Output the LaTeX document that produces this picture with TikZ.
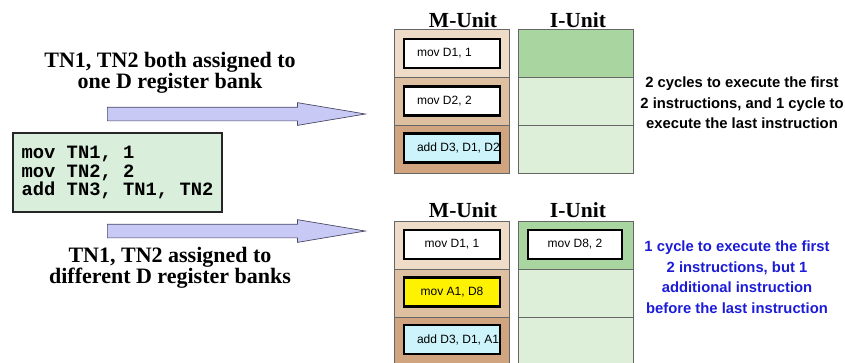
\documentclass[tikz,border=0pt]{standalone}
\usepackage{fontspec}
\setmainfont{Liberation Serif}
\setsansfont{Liberation Sans}
\setmonofont{Liberation Mono}
\usetikzlibrary{shapes.arrows,positioning}
\definecolor{tanlight}{HTML}{EEDCC9}
\definecolor{tanmid}{HTML}{DEBF9F}
\definecolor{tandark}{HTML}{D0A47E}
\definecolor{greenmid}{HTML}{A9D6A0}
\definecolor{greenpale}{HTML}{DDEFD8}
\definecolor{codegreen}{HTML}{D9EEDB}
\definecolor{cyanpale}{HTML}{CCF4FA}
\definecolor{arrowfill}{HTML}{C9C9F6}
\definecolor{arrowline}{HTML}{4A4A66}
\definecolor{notesblue}{HTML}{1C1CD8}

\begin{document}
\begin{tikzpicture}[x=1pt, y=-1pt,
    cell/.style={draw=gray!80!black, line width=0.6pt, minimum width=115pt,
                 minimum height=48pt, inner sep=0pt},
    slot/.style={draw=black, line width=2.4pt, fill=white, minimum width=96pt,
                 minimum height=29pt, inner sep=0pt, font=\sffamily\fontsize{12}{12}\selectfont},
    head/.style={font=\bfseries\fontsize{21.5}{21}\selectfont},
    caption/.style={align=center, font=\bfseries\fontsize{22}{20.5}\selectfont},
    note/.style={align=center, font=\sffamily\bfseries\fontsize{14.8}{20.5}\selectfont},
    blockarrow/.style={single arrow, draw=arrowline, fill=arrowfill, line width=0.7pt,
                 inner xsep=0pt, inner ysep=6.5pt, minimum width=22pt, minimum height=258pt,
                 single arrow head extend=4.5pt, single arrow tip angle=19, anchor=tail}
  ]
    \clip (0,0) rectangle (845,362);

    % code and captions
    \node[draw=black!85, line width=2.6pt, fill=codegreen, minimum width=209pt,
          minimum height=79pt, align=left, font=\ttfamily\bfseries\fontsize{18.8}{18.5}\selectfont]
          (code) at (117.5,172.5) {mov TN1, 1\\mov TN2, 2\\add TN3, TN1, TN2};
    \node[caption] (captop) at (170,73)  {TN1, TN2 both assigned to\\one D register bank};
    \node[caption] (capbot) at (170,268) {TN1, TN2 assigned to\\different D register banks};
    \node[blockarrow] (arrtop) at (107,114) {};
    \node[blockarrow] (arrbot) at (107,231) {};

    % first schedule
    \node[head] (mheadA) at (463,20) {M-Unit};
    \node[head] (iheadA) at (578,20) {I-Unit};
    \node[cell, fill=tanlight]  (mA1) at (451.5,53)  {};
    \node[cell, fill=tanmid]    (mA2) at (451.5,101) {};
    \node[cell, fill=tandark]   (mA3) at (451.5,149) {};
    \node[cell, fill=greenmid]  (iA1) at (575.5,53)  {};
    \node[cell, fill=greenpale] (iA2) at (575.5,101) {};
    \node[cell, fill=greenpale] (iA3) at (575.5,149) {};
    \node[slot] (sA1) at (452,53.5) {\makebox[70pt][l]{mov D1, 1}};
    \node[slot] (sA2) at (452,101)  {\makebox[70pt][l]{mov D2, 2}};
    \node[slot, fill=cyanpale] (sA3) at (452,148) {\makebox[70pt][l]{add D3, D1, D2}};
    \node[note] (noteA) at (742,103)
      {2 cycles to execute the first\\2 instructions, and 1 cycle to\\execute the last instruction};

    % second schedule
    \node[head] (mheadB) at (463,210) {M-Unit};
    \node[head] (iheadB) at (578,210) {I-Unit};
    \node[cell, fill=tanlight]  (mB1) at (451.5,245) {};
    \node[cell, fill=tanmid]    (mB2) at (451.5,293) {};
    \node[cell, fill=tandark]   (mB3) at (451.5,341) {};
    \node[cell, fill=greenmid]  (iB1) at (575.5,245) {};
    \node[cell, fill=greenpale] (iB2) at (575.5,293) {};
    \node[cell, fill=greenpale] (iB3) at (575.5,341) {};
    \node[slot] (sB1) at (452,244.5) {mov D1, 1};
    \node[slot, fill=yellow] (sB2) at (452,292) {mov A1, D8};
    \node[slot, fill=cyanpale] (sB3) at (452,339.5) {\makebox[70pt][l]{add D3, D1, A1}};
    \node[slot, minimum width=94pt] (sB4) at (575,244.5) {mov D8, 2};
    \node[note, text=notesblue] (noteB) at (737,277)
      {1 cycle to execute the first\\2 instructions, but 1\\additional instruction\\before the last instruction};
\end{tikzpicture}
\end{document}
